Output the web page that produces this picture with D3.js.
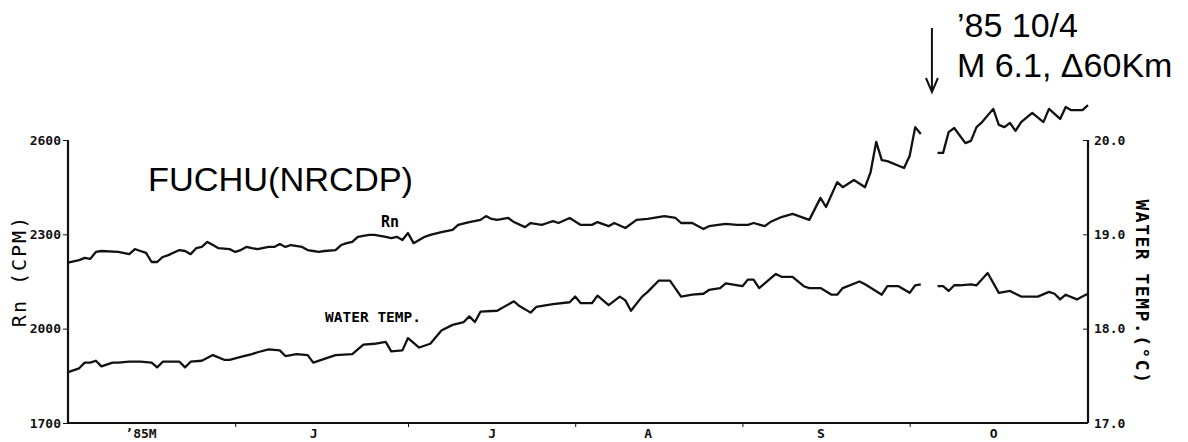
<!DOCTYPE html>
<html>
<head>
<meta charset="utf-8">
<script src="https://cdn.jsdelivr.net/npm/d3@7"></script>
<style>
  body { margin: 0; background: #fff; }
  svg { display: block; }
  .tick text { font-family: "DejaVu Sans Mono", monospace; font-weight: bold; font-size: 13px; fill: #111; }
  .domain, .tick line { stroke: #111; }
</style>
</head>
<body>
<svg width="1188" height="442"></svg>
<script>
// days counted from 1 May 1985; null = gap in the record
const rnDays = [0, 2, 3, 4, 5, 6, 9, 11, 12, 13, 14, 15, 16, 17, 18, 20, 21, 22, 23, 24, 25, 26, 27, 29, 30,
  31, 32, 33, 34, 36, 37, 38, 39, 40, 42, 43, 44, 45, 46, 48, 49, 50, 51, 52, 54, 55, 57, 58, 59, 60,
  61, 62, 63, 64, 65, 67, 69, 70, 72, 74, 75, 76, 77, 79, 80, 82, 83, 85, 86, 87, 88, 90, 92, 94, 95,
  97, 98, 100, 102, 104, 107, 109, 110, 112, 114, 115, 118, 120, 122, 123, 125, 126, 128, 130, 133,
  135, 136, 138, 139, 141, 143, 144, 145, 146, 147, 150, 151, 152, 153, 155,
  156, 157, 158, 159, 161, 162, 163, 164, 166, 167, 168, 169, 170, 171, 173, 175, 176, 178, 179, 180, 182, 183];
const rnValues = [2210, 2218, 2225, 2222, 2244, 2247, 2244, 2237, 2253, 2247, 2241, 2212, 2212, 2228, 2234, 2250, 2247, 2237, 2256, 2260, 2276, 2266, 2256, 2253, 2244,
  2250, 2260, 2256, 2253, 2260, 2260, 2269, 2260, 2266, 2260, 2250, 2247, 2244, 2247, 2250, 2266, 2272, 2276, 2292, 2298, 2298, 2292, 2288, 2292, 2282,
  2304, 2272, 2282, 2292, 2298, 2307, 2314, 2330, 2339, 2346, 2358, 2349, 2346, 2352, 2339, 2323, 2336, 2330, 2336, 2342, 2336, 2352, 2330, 2330, 2339,
  2326, 2336, 2320, 2346, 2349, 2358, 2352, 2336, 2336, 2317, 2326, 2333, 2330, 2330, 2336, 2326, 2339, 2355, 2365, 2346,
  2416, 2387, 2466, 2450, 2473, 2450, 2498, 2594, 2536, 2533, 2511, 2549, 2641, 2619, null,
  2559, 2559, 2625, 2638, 2590, 2597, 2641, 2657, 2699, 2648, 2641, 2654, 2629, 2657, 2686, 2657, 2699, 2667, 2705, 2695, 2695, 2711];

const tempDays = [0, 2, 3, 4, 5, 6, 8, 9, 11, 13, 15, 16, 17, 20, 21, 22, 24, 26, 28, 29, 31, 33, 34, 36, 38,
  39, 41, 43, 44, 46, 48, 51, 53, 55, 57, 58, 60, 61, 63, 65, 67, 69, 71, 72, 73, 74, 77, 80, 81, 83,
  84, 87, 90, 91, 92, 94, 95, 97, 99, 100, 101, 103, 104, 106, 108, 110, 112, 114, 115, 117, 118, 121,
  122, 123, 124, 126, 127, 128, 130, 132, 133, 135, 137, 138, 139, 142, 143, 146, 147, 149, 151, 152, 153, 155,
  156, 157, 158, 159, 160, 162, 163, 165, 167, 169, 171, 174, 176, 177, 178, 179, 181, 182, 183];
const tempValues = [17.54, 17.58, 17.64, 17.64, 17.66, 17.60, 17.64, 17.64, 17.65, 17.65, 17.64, 17.59, 17.65, 17.65, 17.59, 17.65, 17.66, 17.72, 17.67, 17.67, 17.70, 17.73, 17.75, 17.78, 17.77,
  17.71, 17.73, 17.72, 17.64, 17.68, 17.72, 17.73, 17.83, 17.84, 17.86, 17.76, 17.77, 17.90, 17.80, 17.84, 17.98, 18.04, 18.07, 18.13, 18.07, 18.18, 18.19, 18.29, 18.24, 18.17,
  18.23, 18.26, 18.28, 18.34, 18.27, 18.27, 18.35, 18.25, 18.34, 18.30, 18.19, 18.34, 18.39, 18.51, 18.51, 18.34, 18.36, 18.37, 18.41, 18.43, 18.48, 18.45,
  18.52, 18.52, 18.43, 18.53, 18.58, 18.55, 18.55, 18.45, 18.43, 18.43, 18.36, 18.36, 18.43, 18.50, 18.47, 18.36, 18.45, 18.45, 18.38, 18.46, 18.47, null,
  18.45, 18.45, 18.40, 18.46, 18.46, 18.47, 18.46, 18.59, 18.38, 18.40, 18.34, 18.34, 18.39, 18.37, 18.31, 18.36, 18.31, 18.34, 18.37];

const rnTicks = [1700, 2000, 2300, 2600];
const tempTicks = [17, 18, 19, 20];
const monthTickDays = [30, 61, 91, 121, 151];
const monthLabelDays = [13, 44, 76, 104, 135, 166];
const monthLabels = ["\u201985M", "J", "J", "A", "S", "O"];
const eventDay = 155;
const eventText = ["\u201985 10/4", "M 6.1, \u039460Km"];

const svg = d3.select("svg");
const x = d3.scaleLinear().domain([0, 183]).range([68, 1088]);
const yRn = d3.scaleLinear().domain([1700, 2600]).range([423, 140]);
const yTemp = d3.scaleLinear().domain([17, 20]).range([423, 140]);

// axes
svg.append("g").attr("transform", "translate(68,0)")
  .call(d3.axisLeft(yRn).tickValues(rnTicks).tickFormat(d3.format("d")).tickSize(5).tickPadding(2))
  .call(g => g.select(".domain").attr("stroke-width", 2.2).attr("d", "M0,140V423"));

svg.append("g").attr("transform", "translate(1088,0)")
  .call(d3.axisRight(yTemp).tickValues(tempTicks).tickFormat(d3.format(".1f")).tickSize(0).tickPadding(6))
  .call(g => g.select(".domain").attr("stroke-width", 2.2).attr("d", "M0,140V423"))
  .call(g => g.selectAll(".tick").append("line").attr("x2", -5).attr("stroke", "#111"));

svg.append("g").attr("transform", "translate(0,423)")
  .call(d3.axisBottom(x).tickValues(monthTickDays).tickFormat("").tickSize(4))
  .call(g => g.select(".domain").attr("stroke-width", 2.2).attr("d", "M68,0H1088"));

svg.append("g").attr("transform", "translate(0,423)")
  .call(d3.axisBottom(x).tickValues(monthLabelDays).tickFormat((d, i) => monthLabels[i]).tickSize(0).tickPadding(6))
  .call(g => g.select(".domain").remove());

// lines
const rnData = rnDays.map((d, i) => [d, rnValues[i]]);
const tempData = tempDays.map((d, i) => [d, tempValues[i]]);

svg.append("path").datum(rnData)
  .attr("fill", "none").attr("stroke", "#111").attr("stroke-width", 2.3).attr("stroke-linejoin", "round")
  .attr("d", d3.line().defined(d => d[1] != null).x(d => x(d[0])).y(d => yRn(d[1])));

svg.append("path").datum(tempData)
  .attr("fill", "none").attr("stroke", "#111").attr("stroke-width", 2.3).attr("stroke-linejoin", "round")
  .attr("d", d3.line().defined(d => d[1] != null).x(d => x(d[0])).y(d => yTemp(d[1])));

// labels
svg.append("text").attr("x", 148).attr("y", 191)
  .attr("font-family", "Liberation Sans, Arial, sans-serif").attr("font-size", 34)
  .attr("textLength", 265).attr("lengthAdjust", "spacingAndGlyphs")
  .text("FUCHU(NRCDP)");

svg.append("text").attr("x", 381).attr("y", 227)
  .attr("font-family", "DejaVu Sans Mono, monospace").attr("font-weight", "bold").attr("font-size", 15)
  .text("Rn");

svg.append("text").attr("x", 325).attr("y", 322)
  .attr("font-family", "DejaVu Sans Mono, monospace").attr("font-weight", "bold").attr("font-size", 14.5)
  .text("WATER TEMP.");

svg.append("text").attr("transform", "translate(26,271) rotate(-90)").attr("text-anchor", "middle")
  .attr("font-family", "DejaVu Sans Mono, monospace").attr("font-size", 20).attr("letter-spacing", 2)
  .text("Rn (CPM)");

svg.append("text").attr("transform", "translate(1136,292) rotate(90)").attr("text-anchor", "middle")
  .attr("font-family", "DejaVu Sans Mono, monospace").attr("font-weight", "bold").attr("font-size", 18)
  .attr("letter-spacing", 1.5)
  .text("WATER TEMP.(\u00b0C)");

// earthquake marker
const ex = x(eventDay);
svg.append("line").attr("x1", ex).attr("x2", ex).attr("y1", 28).attr("y2", 90)
  .attr("stroke", "#111").attr("stroke-width", 2);
svg.append("path").attr("d", `M${ex - 6},${78}L${ex},${92}L${ex + 6},${78}`)
  .attr("fill", "none").attr("stroke", "#111").attr("stroke-width", 2);

svg.append("g").selectAll("text").data(eventText).join("text")
  .attr("x", ex + 25).attr("y", (d, i) => 37 + i * 40)
  .attr("font-family", "Liberation Sans, Arial, sans-serif").attr("font-size", 34)
  .text(d => d);
</script>
</body>
</html>
